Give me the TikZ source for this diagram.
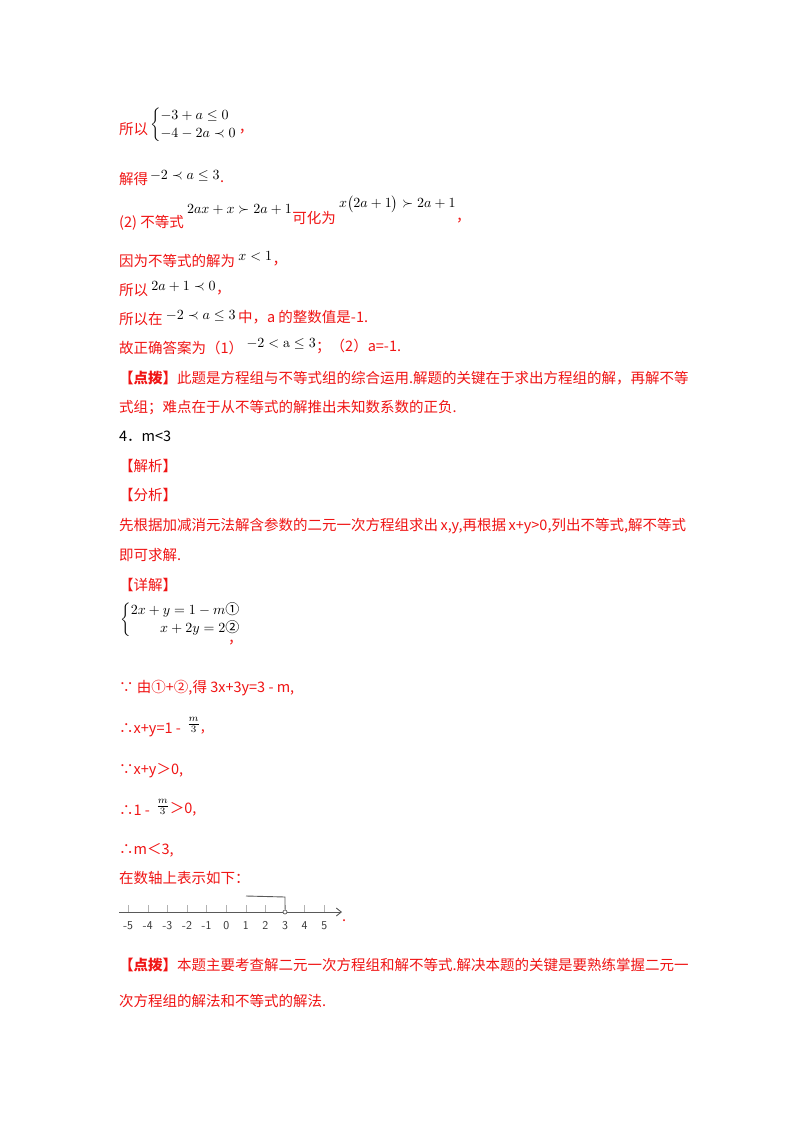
\documentclass[tikz,border=0pt]{standalone}
\usepackage{fontspec}
\usepackage{amsmath,amssymb}
\usetikzlibrary{arrows.meta}
\newfontfamily\cjk{Noto Sans CJK SC}
\definecolor{rd}{RGB}{240,20,20}
\begin{document}
\begin{tikzpicture}[x=1pt,y=-1pt,
  t/.style={anchor=base west,inner sep=0pt,font=\cjk\fontsize{14.5}{17}\selectfont,text=rd},
  k/.style={anchor=base west,inner sep=0pt,font=\cjk\fontsize{14.5}{17}\selectfont,text=black},
  m/.style={anchor=base west,inner sep=0pt,scale=1.4,text=black}]
\useasboundingbox (0,0) rectangle (800,1132);
\fill[white] (0,0) rectangle (800,1132);
\node[t] (a1) at (119,134) {所以};
\node[m,xshift=1pt,yshift=4pt] (a2) at (a1.base east) {$\left\{\begin{array}{@{}l@{}}-3+a\le 0\\[1pt]-4-2a\prec 0\end{array}\right.$};
\node[t,xshift=1pt,yshift=-4pt] (a3) at (a2.base east) {，};
\node[t] (b1) at (119,184) {解得};
\node[m,xshift=1pt,yshift=3pt] (b2) at (b1.base east) {$-2\prec a\le 3$};
\node[t,yshift=-3pt] (b3) at (b2.base east) {.};
\node[t] (c1) at (119,227) {(2) 不等式};
\node[m,xshift=2pt,yshift=10pt] (c2) at (c1.base east) {$2ax+x\succ 2a+1$};
\node[t,yshift=-10pt] (c3) at (c2.base east) {可化为};
\node[m,xshift=2pt,yshift=11pt] (c4) at (c3.base east) {$x\big(2a+1\big)\succ 2a+1$};
\node[t,yshift=-14pt] (c5) at (c4.base east) {，};
\node[t] (d1) at (119,266) {因为不等式的解为};
\node[m,xshift=2pt,yshift=4pt] (d2) at (d1.base east) {$x<1$};
\node[t,yshift=-4pt] (d3) at (d2.base east) {，};
\node[t] (e1) at (119,295) {所以};
\node[m,xshift=2pt,yshift=3pt] (e2) at (e1.base east) {$2a+1\prec 0$};
\node[t,yshift=-3pt] (e3) at (e2.base east) {，};
\node[t] (f1) at (119,324) {所以在};
\node[m,xshift=2pt,yshift=3pt] (f2) at (f1.base east) {$-2\prec a\le 3$};
\node[t,xshift=2pt,yshift=-3pt] (f3) at (f2.base east) {中，a 的整数值是-1.};
\node[t] (g1) at (119,353) {故正确答案为（1）};
\node[m,xshift=2pt,yshift=4pt] (g2) at (g1.base east) {$-2<\mathrm{a}\le 3$};
\node[t,yshift=-4pt] (g3) at (g2.base east) {；（2）a=-1.};
\node[t] (h1) at (119,383) {\textbf{【点拨】}此题是方程组与不等式组的综合运用.解题的关键在于求出方程组的解，再解不等};
\node[t] (h2) at (119,412) {式组；难点在于从不等式的解推出未知数系数的正负.};
\node[k] (i1) at (119,441) {4．m<3};
\node[t] (i2) at (119,471) {【解析】};
\node[t] (i3) at (119,500) {【分析】};
\node[t] (i4) at (119,530) {先根据加减消元法解含参数的二元一次方程组求出\,\textit{x,y},再根据\,\textit{x+y}>0,列出不等式,解不等式};
\node[t] (i5) at (119,560) {即可求解.};
\node[t] (j1) at (119,590) {【详解】};
\node[m,anchor=north west] (j2) at (120,602) {$\left\{\begin{array}{@{}r@{}l@{}}2x+y=1-m&\text{\cjk ①}\\[1pt] x+2y=2&\text{\cjk ②}\end{array}\right.$};
\node[t] (j3) at (228,643) {，};
\node[t] (k1) at (119,692) {∵ 由①+②,得 \textit{3x+3y=3} - \textit{m},};
\node[t] (l1) at (119,733) {∴\textit{x+y}=1 -};
\node[m,xshift=4pt,yshift=4pt] (l2) at (l1.base east) {$\frac{m}{3}$};
\node[t,yshift=-4pt] (l3) at (l2.base east) {,};
\node[t] (n1) at (119,774) {∵\textit{x+y}＞0,};
\node[t] (o1) at (119,815) {∴1 -};
\node[m,xshift=4pt,yshift=4pt] (o2) at (o1.base east) {$\frac{m}{3}$};
\node[t,yshift=-4pt] (o3) at (o2.base east) {＞0,};
\node[t] (p1) at (119,854) {∴\textit{m}＜3,};
\node[t] (q1) at (119,883) {在数轴上表示如下：};
% number line
\coordinate (ax0) at (119,912);
\coordinate (ax1) at (342,912);
\draw[gray!70!black,line width=0.9pt,-{Straight Barb[length=5pt,width=8pt]}] (ax0) -- (ax1);
\foreach \i in {-5,...,5}{
  \pgfmathsetmacro{\xx}{285+19.6*(\i-3)}
  \draw[gray!60] (\xx,905) -- (\xx,912);
  \node[anchor=base,inner sep=0pt,font=\sffamily\large,text=black!80] at (\xx,929) {\i};
}
\coordinate (br0) at (246,896);
\coordinate (br1) at (285,897);
\draw[gray!70!black,line width=0.9pt] (br0) -- (br1) -- (285,909);
\node[draw=gray!70!black,circle,minimum size=4pt,inner sep=0pt,line width=0.7pt,fill=white] (oc) at (285,912) {};
\node[t] (q2) at (342,921) {.};
\node[t] (r1) at (119,970) {\textbf{【点拨】}本题主要考查解二元一次方程组和解不等式.解决本题的关键是要熟练掌握二元一};
\node[t] (r2) at (119,1006) {次方程组的解法和不等式的解法.};
\end{tikzpicture}
\end{document}
